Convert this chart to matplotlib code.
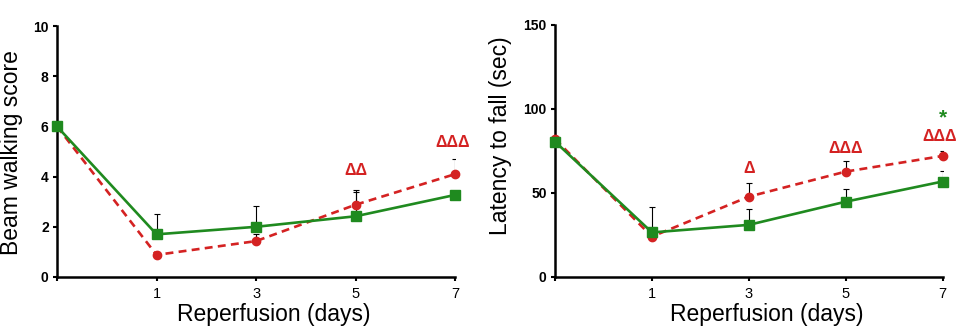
import numpy as np
import matplotlib
matplotlib.use("Agg")
import matplotlib.pyplot as plt

plt.rcParams['font.family'] = ['Liberation Sans', 'DejaVu Sans']

# data
day_labels = ['', '1', '3', '5', '7']

beam_green = [6.0, 1.70, 2.00, 2.42, 3.27]
beam_green_err = [0, 0.83, 0.83, 0.96, 0]
beam_red = [6.0, 0.88, 1.43, 2.88, 4.10]
beam_red_err = [0, 0, 0.30, 0.57, 0.62]
beam_marks = [(3, 3.95, 'ΔΔ'), (4, 5.05, 'ΔΔΔ')]

lat_green = [80.5, 26.5, 31.0, 44.8, 56.8]
lat_green_err = [0, 15.3, 9.3, 7.8, 6.3]
lat_red = [82.0, 24.0, 47.8, 62.7, 72.0]
lat_red_err = [0, 0, 8.2, 6.3, 3.0]
lat_marks = [(2, 60, 'Δ'), (3, 72, 'ΔΔΔ'), (4, 79, 'ΔΔΔ')]
lat_star = (4, 89, '*')

GREEN = '#1f8a1f'
RED = '#d42222'


def panel(ax, green, green_err, red, red_err, ymax, yticks, ylabel, marks):
    x = np.arange(len(green))
    ax.errorbar(x, red, yerr=[np.zeros(len(x)), red_err], fmt='none',
                ecolor='black', elinewidth=0.8, capsize=2, capthick=0.8, zorder=2)
    ax.errorbar(x, green, yerr=[np.zeros(len(x)), green_err], fmt='none',
                ecolor='black', elinewidth=0.8, capsize=2, capthick=0.8, zorder=2)
    ax.plot(x, red, color=RED, ls=(0, (3, 2)), lw=1.9, marker='o', ms=6,
            clip_on=False, zorder=3)
    ax.plot(x, green, color=GREEN, ls='-', lw=1.9, marker='s', ms=6.5,
            clip_on=False, zorder=4)
    for xi, yi, s in marks:
        # keep the last label inside the figure edge
        dx = -2 if xi == len(x) - 1 else 0
        ax.annotate(s, (xi, yi), xytext=(dx, 0), textcoords='offset points',
                    color=RED, fontsize=11.5, fontweight='bold',
                    ha='center', va='bottom', annotation_clip=False)

    ax.set_xlim(0, 4)
    ax.set_ylim(0, ymax)
    ax.set_xticks(x)
    ax.set_xticklabels(day_labels, fontsize=10.5)
    ax.set_yticks(yticks)
    ax.set_yticklabels([str(t) for t in yticks], fontsize=10, fontweight='bold')
    ax.tick_params(axis='both', direction='out', length=3, width=1.5, pad=3)
    ax.tick_params(axis='x', pad=4)
    for side in ['top', 'right']:
        ax.spines[side].set_visible(False)
    for side in ['left', 'bottom']:
        ax.spines[side].set_linewidth(1.8)
    ax.set_xlabel('Reperfusion (days)', fontsize=16.5)
    ax.set_ylabel(ylabel, fontsize=16.5)
    ax.xaxis.set_label_coords(0.545, -0.105)


fig = plt.figure(figsize=(9.57, 3.27), dpi=100)
ax1 = fig.add_axes([0.0596, 0.153, 0.4159, 0.767])
ax2 = fig.add_axes([0.580, 0.153, 0.405, 0.771])

panel(ax1, beam_green, beam_green_err, beam_red, beam_red_err, 10,
      [0, 2, 4, 6, 8, 10], 'Beam walking score', beam_marks)
ax1.yaxis.set_label_coords(-0.085, 0.498)

panel(ax2, lat_green, lat_green_err, lat_red, lat_red_err, 150,
      [0, 50, 100, 150], 'Latency to fall (sec)', lat_marks)
ax2.text(lat_star[0], lat_star[1], lat_star[2], color=GREEN, fontsize=15,
         fontweight='bold', ha='center', va='bottom')
ax2.yaxis.set_label_coords(-0.11, 0.56)

fig.savefig('out.png', dpi=100)
